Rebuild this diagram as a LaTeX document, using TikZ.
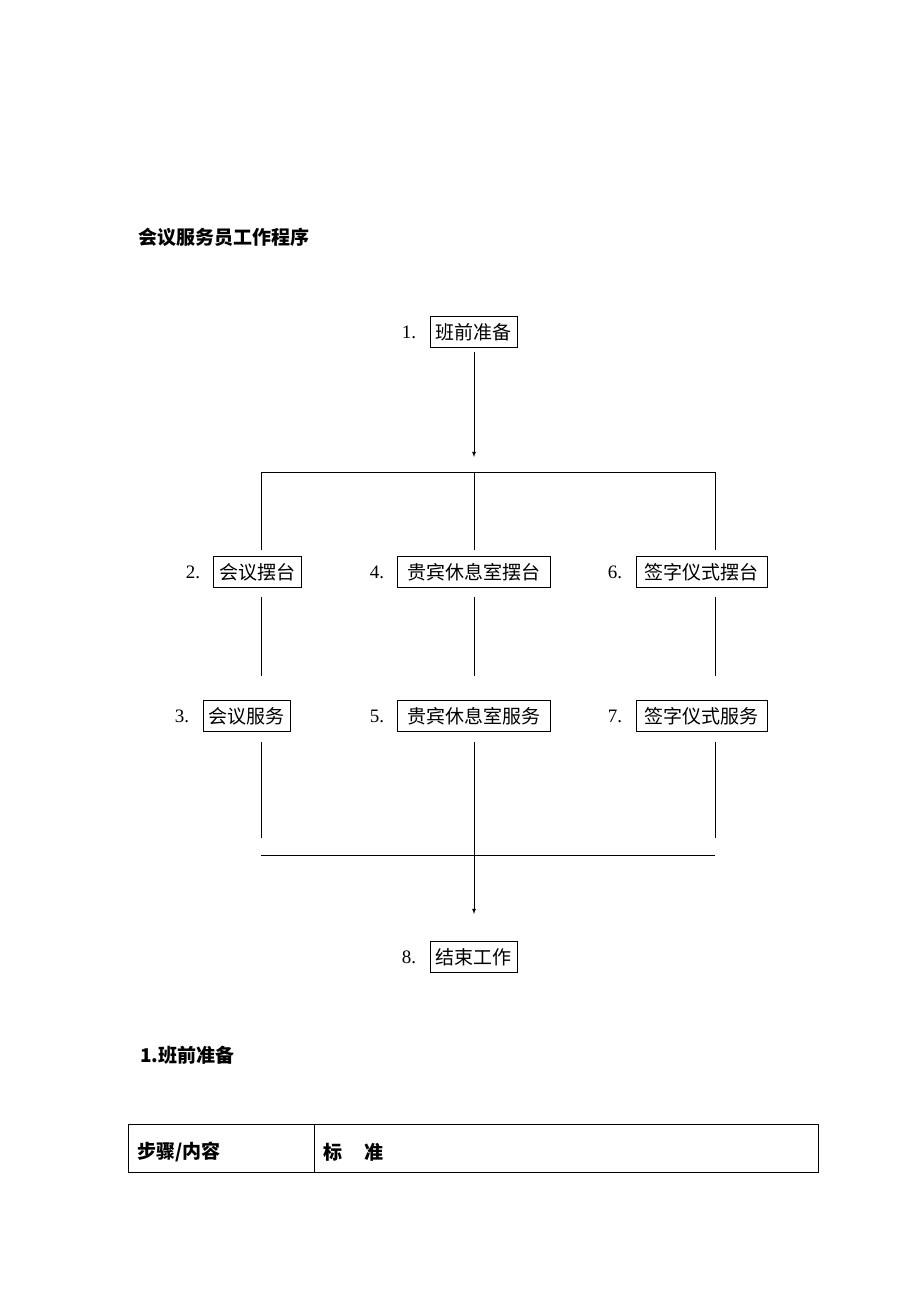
\documentclass[tikz,border=0pt]{standalone}
\usepackage{fontspec}
\newfontfamily\cjk{Noto Sans CJK SC}
\setmainfont{Liberation Serif}
\begin{document}
\begin{tikzpicture}[x=1pt,y=-1pt,
  box/.style={draw,line width=0.6pt,inner sep=0pt,minimum height=31,font=\cjk\fontsize{19}{19}\selectfont},
  num/.style={inner sep=0pt,font=\fontsize{19}{19}\selectfont},
  ln/.style={line width=0.8pt},
  hd/.style={inner sep=0pt,anchor=west,font=\cjk\bfseries\fontsize{19}{19}\selectfont}]
\useasboundingbox (0,0) rectangle (920,1302);
\node[hd] (title) at (138,237) {会议服务员工作程序};
\node[box,minimum width=87] (b1) at (473.5,332) {班前准备};
\node[num] (n1) at (409,332) {1.};
\node[box,minimum width=88] (b2) at (257,572) {会议摆台};
\node[num] (n2) at (193,572) {2.};
\node[box,minimum width=153] (b4) at (473.5,572) {贵宾休息室摆台};
\node[num] (n4) at (377,572) {4.};
\node[box,minimum width=131] (b6) at (701.5,572) {签字仪式摆台};
\node[num] (n6) at (615,572) {6.};
\node[box,minimum width=87] (b3) at (246.5,716) {会议服务};
\node[num] (n3) at (182,716) {3.};
\node[box,minimum width=153] (b5) at (473.5,716) {贵宾休息室服务};
\node[num] (n5) at (377,716) {5.};
\node[box,minimum width=131] (b7) at (701.5,716) {签字仪式服务};
\node[num] (n7) at (615,716) {7.};
\node[box,minimum width=87] (b8) at (473.5,957) {结束工作};
\node[num] (n8) at (409,957) {8.};
\coordinate (a1) at (474,352); \coordinate (a2) at (474,457);
\draw[ln,-latex] (a1) -- (a2);
\coordinate (hL) at (261,472); \coordinate (hR) at (715,472);
\draw[ln] (hL) -- (hR);
\foreach \x in {261,474,715}{
 \draw[ln] (\x,472) -- (\x,550);
 \draw[ln] (\x,597) -- (\x,676);}
\draw[ln] (261,742) -- (261,838);
\draw[ln] (715,742) -- (715,838);
\draw[ln] (261,855) -- (715,855);
\coordinate (c1) at (474,742); \coordinate (c2) at (474,914);
\draw[ln,-latex] (c1) -- (c2);
\node[hd] (sec) at (140,1055) {1.班前准备};
\draw[line width=0.6pt] (128,1124) rectangle (818,1172);
\draw[line width=0.6pt] (314,1124) -- (314,1172);
\node[hd] (t1) at (137,1152) {步骤/内容};
\node[hd] (t2) at (323,1152) {标\hspace{1.2em}准};
\end{tikzpicture}
\end{document}
